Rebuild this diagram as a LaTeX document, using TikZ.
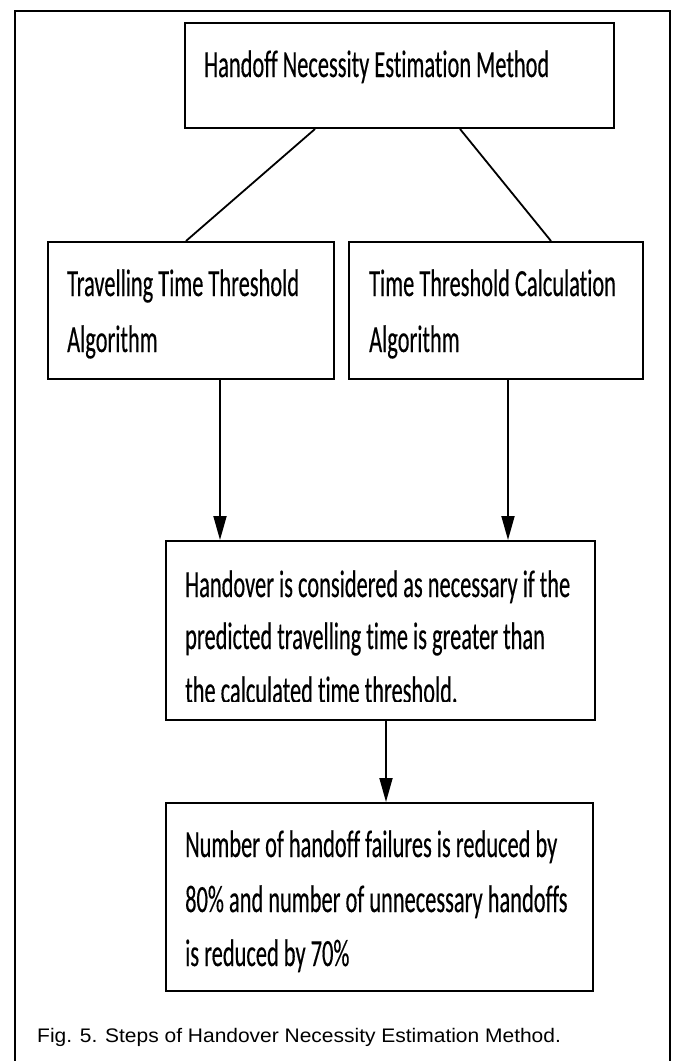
\documentclass[tikz,border=0pt]{standalone}
\usepackage{fontspec}
\usetikzlibrary{arrows.meta}
\newfontfamily\boxfont[FakeStretch=0.582, Ligatures={NoCommon}, FakeBold=0.3]{Carlito}
\newfontfamily\capfont[FakeStretch=1.07]{Liberation Sans}
\tikzset{
  box/.style={draw, line width=2pt, inner sep=0pt, rectangle},
  txt/.style={anchor=base west, inner sep=0pt, font=\boxfont\fontsize{38.5}{40}\selectfont},
  conn/.style={line width=1.8pt},
  arr/.style={line width=1.8pt, -{Triangle[length=24pt, width=13pt]}},
  frame/.style={line width=2pt}
}
\begin{document}
\begin{tikzpicture}[x=1pt, y=-1pt]
\useasboundingbox (0,0) rectangle (676,1061);
\fill[white] (0,0) rectangle (676,1061);
% outer frame (open at the bottom)
\draw[frame] (15,1061) -- (15,11) -- (670,11) -- (670,1061);
% boxes
\node[box, minimum width=429pt, minimum height=105pt] (top) at (399.5,75.5) {};
\node[box, minimum width=286pt, minimum height=137pt] (lb) at (191,310.5) {};
\node[box, minimum width=294pt, minimum height=137pt] (rb) at (496,310.5) {};
\node[box, minimum width=429pt, minimum height=179pt] (mb) at (380.5,630.5) {};
\node[box, minimum width=427pt, minimum height=188pt] (bb) at (379.5,897) {};
% texts
\node[txt] (ttop) at (204,77) {Handoff Necessity Estimation Method};
\node[txt] (tl1) at (67,296) {Travelling Time Threshold};
\node[txt] (tl2) at (67,352) {Algorithm};
\node[txt] (tr1) at (369,296) {Time Threshold Calculation};
\node[txt] (tr2) at (369,352) {Algorithm};
\node[txt] (tm1) at (185,597) {Handover is considered as necessary if the};
\node[txt] (tm2) at (185,649) {predicted travelling time is greater than};
\begin{scope}
\clip (166,660) rectangle (595,701);
\node[txt] (tm3) at (185,703) {the calculated time threshold.};
\end{scope}
\node[txt] (tb1) at (185,857) {Number of handoff failures is reduced by};
\node[txt] (tb2) at (185,912) {80\% and number of unnecessary handoffs};
\node[txt] (tb3) at (185,966) {is reduced by 70\%};
% connectors
\draw[conn] ([xshift=131pt]top.south west) -- ([xshift=139pt]lb.north west);
\draw[conn] ([xshift=276pt]top.south west) -- ([xshift=203pt]rb.north west);
\draw[arr] ([xshift=173pt]lb.south west) -- ([xshift=55pt]mb.north west);
\draw[arr] ([xshift=160pt]rb.south west) -- ([xshift=343pt]mb.north west);
\draw[arr] ([xshift=221pt]mb.south west) -- ([xshift=221pt]bb.north west);
% caption
\node[anchor=base west, inner sep=0pt, font=\capfont\fontsize{19.6}{22}\selectfont] (cap) at (37,1042) {Fig. 5. Steps of Handover Necessity Estimation Method.};
\end{tikzpicture}
\end{document}
